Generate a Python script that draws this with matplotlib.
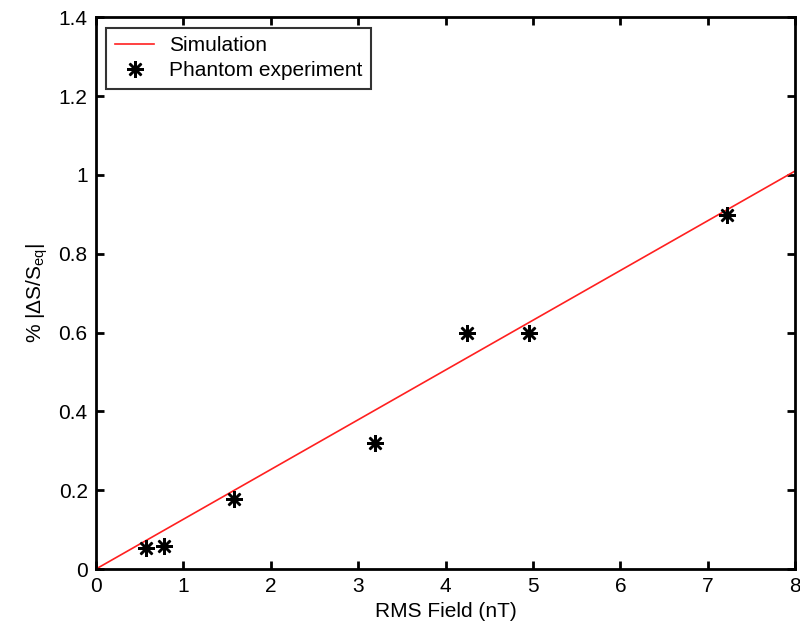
import numpy as np
import matplotlib
matplotlib.use("Agg")
import matplotlib.pyplot as plt

# Data
field_exp = [0.57, 0.78, 1.58, 3.19, 4.24, 4.95, 7.22]
signal_exp = [0.053, 0.059, 0.177, 0.32, 0.599, 0.600, 0.897]
field_sim = [0, 8]
signal_sim = [0, 1.01]

plt.rcParams['font.family'] = ['Liberation Sans', 'DejaVu Sans']
plt.rcParams['mathtext.fontset'] = 'custom'
plt.rcParams['mathtext.rm'] = 'Liberation Sans'
plt.rcParams['mathtext.it'] = 'Liberation Sans'
plt.rcParams['mathtext.bf'] = 'Liberation Sans:bold'

fs = 15

fig = plt.figure(figsize=(8, 6.27), dpi=100)
ax = fig.add_axes([0.12, 0.0925, 0.874, 0.88])

ax.plot(field_sim, signal_sim, color='#ff2020', lw=1.2, label='Simulation')
ax.plot(field_exp, signal_exp, ls='none', marker=(8, 2, 0), ms=12, mew=1.8,
        color='black', label='Phantom experiment')

ax.set_xlim(0, 8)
ax.set_ylim(0, 1.4)
ax.set_xticks(range(0, 9))
ax.set_yticks([0, 0.2, 0.4, 0.6, 0.8, 1.0, 1.2, 1.4])
ax.set_yticklabels(['0', '0.2', '0.4', '0.6', '0.8', '1', '1.2', '1.4'])

ax.tick_params(direction='in', top=True, right=True, length=6, width=2,
               labelsize=fs, pad=6)
for s in ax.spines.values():
    s.set_linewidth(2)

ax.set_xlabel('RMS Field (nT)', fontsize=fs, labelpad=4)
ax.set_ylabel(r'% $|\Delta S/S_{\rm eq}|$', fontsize=fs, labelpad=6)

leg = ax.legend(loc='upper left', fontsize=fs, frameon=True, fancybox=False,
                edgecolor='black', borderaxespad=0.5, handlelength=1.9,
                borderpad=0.4, labelspacing=0.3, handletextpad=0.7)
leg.get_frame().set_linewidth(1.5)

fig.savefig('out.png', dpi=100)
